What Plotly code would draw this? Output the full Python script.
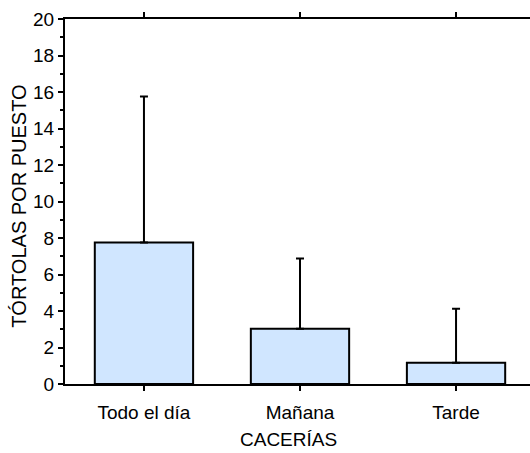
import plotly.graph_objects as go

categories = ["Todo el día", "Mañana", "Tarde"]
means = [7.75, 3.03, 1.17]
err_plus = [8.0, 3.85, 2.95]
y_ticks = list(range(0, 21, 2))

FONT = "Arial, Liberation Sans, sans-serif"

fig = go.Figure()
fig.add_trace(go.Bar(
    x=[0, 1, 2], y=means,
    width=0.63,
    marker=dict(color="#D0E6FF", line=dict(color="black", width=2)),
    error_y=dict(type="data", array=err_plus, arrayminus=[0, 0, 0], symmetric=False,
                 color="black", thickness=2, width=4),
    showlegend=False,
))

fig.update_layout(
    width=530, height=453,
    margin=dict(l=65, r=0, t=19, b=69),
    plot_bgcolor="white", paper_bgcolor="white",
    font=dict(family=FONT, size=19, color="black"),
    annotations=[
        dict(text="CACERÍAS", xref="paper", yref="paper", x=0.4817, y=-0.152,
             xanchor="center", yanchor="middle", showarrow=False,
             font=dict(size=19, family=FONT)),
        dict(text="TÓRTOLAS POR PUESTO", xref="paper", yref="paper", x=-0.099, y=0.488,
             xanchor="center", yanchor="middle", showarrow=False, textangle=-90,
             font=dict(size=20, family=FONT)),
    ],
)
fig.update_xaxes(
    range=[-0.506, 2.474],
    tickmode="array", tickvals=[0, 1, 2], ticktext=categories,
    showline=True, linecolor="black", linewidth=2,
    mirror="ticks", ticks="outside", ticklen=5, tickwidth=2, tickcolor="black",
    showgrid=False, zeroline=False,
    ticklabelstandoff=5,
    tickfont=dict(size=19, family=FONT),
)
fig.update_yaxes(
    range=[0, 20],
    tickmode="array", tickvals=y_ticks,
    showline=True, linecolor="black", linewidth=2,
    ticks="outside", ticklen=5, tickwidth=2, tickcolor="black",
    minor=dict(dtick=1, ticks="outside", ticklen=3, tickwidth=2, tickcolor="black", showgrid=False),
    showgrid=False, zeroline=False,
    tickfont=dict(size=19, family=FONT),
)

fig.write_html("out.html")
